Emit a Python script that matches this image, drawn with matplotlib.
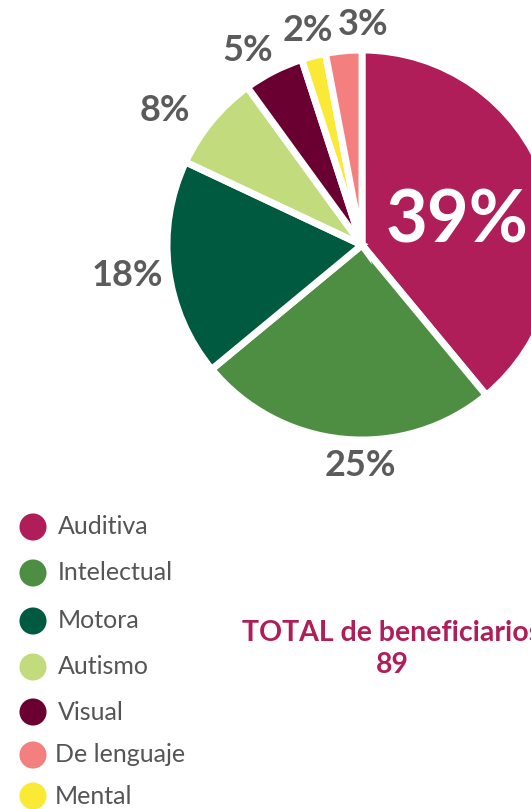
import matplotlib.pyplot as plt
import numpy as np

# datos
categorias = ["Auditiva", "Intelectual", "Motora", "Autismo", "Visual", "Mental", "De lenguaje"]
porcentajes = [39, 25, 18, 8, 5, 2, 3]
colores = ["#B01E5A", "#4E8E42", "#005A3F", "#C2DB7C", "#6A0032", "#FBEA35", "#F47F7F"]
orden_leyenda = ["Auditiva", "Intelectual", "Motora", "Autismo", "Visual", "De lenguaje", "Mental"]
total = 89

# posicion de etiquetas (angulo en grados, radio relativo)
pos_etiquetas = [(13.6, 0.51), (-90.3, 1.146), (-172.7, 1.234), (145.6, 1.244),
                 (120.3, 1.176), (104.2, 1.15), (89.7, 1.15)]
tam_etiquetas = [52, 26, 26, 26, 26, 26, 26]

W, H = 531, 809
fig = plt.figure(figsize=(W / 100, H / 100), dpi=100)

cx, cy, R = 362, 245, 195
ax = fig.add_axes([(cx - R) / W, (H - cy - R) / H, 2 * R / W, 2 * R / H])
wedges, _ = ax.pie(porcentajes, colors=colores, startangle=90, counterclock=False,
                   radius=1, wedgeprops=dict(edgecolor="white", linewidth=5))
ax.set_xlim(-1, 1)
ax.set_ylim(-1, 1)
ax.set_aspect("equal")
ax.axis("off")

for i, p in enumerate(porcentajes):
    ang, r = pos_etiquetas[i]
    r = r * 192 / R
    x = r * np.cos(np.radians(ang))
    y = r * np.sin(np.radians(ang))
    col = "white" if i == 0 else "#5B5B5B"
    ax.text(x, y, f"{p}%", ha="center", va="center", fontsize=tam_etiquetas[i],
            fontweight="bold", color=col, family=["Lato", "DejaVu Sans"], clip_on=False)

# leyenda manual
lax = fig.add_axes([0, 0, 1, 1])
lax.set_xlim(0, W)
lax.set_ylim(H, 0)
lax.axis("off")
ys = [527, 573, 621, 667, 712, 755, 796]
for k, nombre in enumerate(orden_leyenda):
    c = colores[categorias.index(nombre)]
    lax.scatter([33], [ys[k]], s=380, color=c, edgecolors="none")
    tx = 55 if nombre in ("De lenguaje", "Mental") else 58
    lax.text(tx, ys[k], nombre, ha="left", va="center", fontsize=18,
             color="#555555", family=["Lato", "DejaVu Sans"])

lax.text(392, 633, "TOTAL de beneficiarios", ha="center", va="center", fontsize=20.5,
         fontweight="bold", color="#B01E5A", family=["Lato", "DejaVu Sans"])
lax.text(392, 665, str(total), ha="center", va="center", fontsize=20.5,
         fontweight="bold", color="#B01E5A", family=["Lato", "DejaVu Sans"])

fig.savefig("out.png", dpi=100)
